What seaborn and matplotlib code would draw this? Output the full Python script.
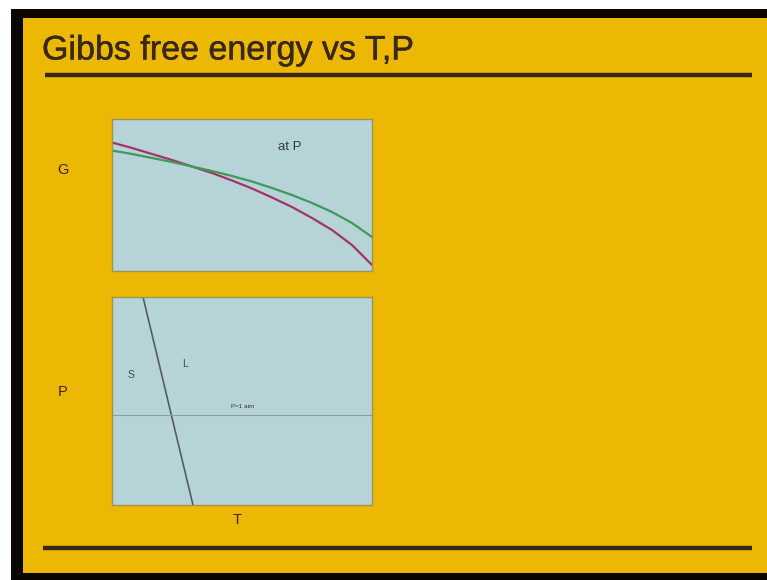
import matplotlib
matplotlib.use("Agg")
import matplotlib.pyplot as plt
from matplotlib.patches import Rectangle
from matplotlib.lines import Line2D
import matplotlib.patheffects as pe
import seaborn as sns
import pandas as pd

# Temperature samples and Gibbs free energy of the two phases at fixed pressure
T = [0, 20, 40, 60, 80, 100, 120, 140, 160, 180, 200, 220, 240, 260]
G_liquid = [128.5, 123, 117, 111, 104.5, 98, 90.5, 82.5, 73.5, 64, 53, 41, 26, 6]
G_solid = [120.5, 117, 113, 109, 104.5, 100, 95, 89.5, 83, 76, 68, 59, 48, 34]

# Solid/liquid coexistence line in the P-T plane, and the P = 1 atm isobar
T_boundary = [31, 81]
P_boundary = [208, 0]
P_isobar = 90

W, H = 767, 580
sns.set_theme(style="white")
plt.rcParams["font.family"] = ["Liberation Sans", "DejaVu Sans"]

fig = plt.figure(figsize=(W / 100, H / 100), dpi=100)
fig.patch.set_facecolor("white")


def fx(x):
    return x / W


def fy(y):
    return 1 - y / H


def box(x0, y0, x1, y1, color, z=0):
    fig.patches.append(Rectangle((fx(x0), fy(y1)), fx(x1) - fx(x0), fy(y0) - fy(y1),
                                 transform=fig.transFigure, facecolor=color,
                                 edgecolor="none", zorder=z))


def rule(x0, x1, y, lw=3.2):
    fig.lines.append(Line2D([fx(x0), fx(x1)], [fy(y), fy(y)], transform=fig.transFigure,
                            color="#3a2816", lw=lw, solid_capstyle="butt", zorder=2))


# Slide frame
box(11, 9, 767, 580, "#0a0604", z=-2)
box(23, 18, 767, 573, "#ecb803", z=-1)
rule(45, 752, 75)
rule(43, 752, 548)

ink = "#3a2816"
fig.text(fx(42), fy(51), "Gibbs free energy vs T,P", fontsize=24.5, color=ink,
         ha="left", va="center", zorder=5,
         path_effects=[pe.withStroke(linewidth=0.35, foreground=ink)])

panel_bg = "#b6d3d8"
edge = "#9c9553"

# Upper panel: G vs T at constant pressure
ax1 = fig.add_axes([fx(112), fy(271), fx(372) - fx(112), fy(119) - fy(271)])
ax1.set_facecolor(panel_bg)
df = pd.DataFrame({"T": T * 2,
                   "G": G_liquid + G_solid,
                   "phase": ["liquid"] * len(T) + ["solid"] * len(T)})
sns.lineplot(data=df, x="T", y="G", hue="phase",
             palette={"liquid": "#a33468", "solid": "#3f9a55"},
             linewidth=1.6, legend=False, ax=ax1)
ax1.set_xlim(0, 260)
ax1.set_ylim(0, 152)
ax1.text(178, 124, "at P", fontsize=9.5, color="#333a3c", ha="center", va="center")

# Lower panel: P-T phase diagram
ax2 = fig.add_axes([fx(112), fy(505), fx(372) - fx(112), fy(297) - fy(505)])
ax2.set_facecolor(panel_bg)
sns.lineplot(x=T_boundary, y=P_boundary, color="#545c60", linewidth=1.2, ax=ax2)
ax2.axhline(P_isobar, color="#8c9ea2", linewidth=0.8)
ax2.set_xlim(0, 260)
ax2.set_ylim(0, 208)
ax2.text(19, 130, "S", fontsize=7.5, color="#444c50", ha="center", va="center")
ax2.text(73, 141, "L", fontsize=7.5, color="#444c50", ha="center", va="center")
ax2.text(131, 99, "P=1 atm", fontsize=4.5, color="#333a3c", ha="center", va="center")

for ax in (ax1, ax2):
    ax.set_zorder(3)
    ax.set_xticks([])
    ax.set_yticks([])
    ax.set_xlabel("")
    ax.set_ylabel("")
    for s in ax.spines.values():
        s.set_color(edge)
        s.set_linewidth(1.0)
        s.set_visible(True)

fig.text(fx(63), fy(170), "G", fontsize=10.5, color=ink, ha="center", va="center", zorder=5)
fig.text(fx(63), fy(392), "P", fontsize=10.5, color=ink, ha="center", va="center", zorder=5)
fig.text(fx(237), fy(520), "T", fontsize=10.5, color=ink, ha="center", va="center", zorder=5)

fig.savefig("out.png", dpi=100, facecolor=fig.get_facecolor())
